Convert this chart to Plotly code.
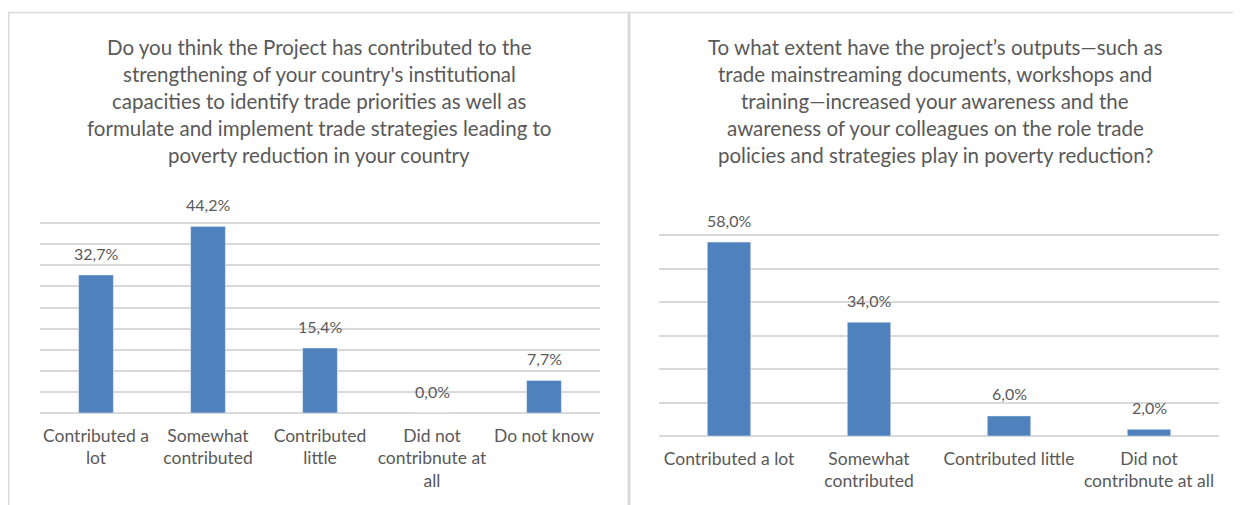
import plotly.graph_objects as go

# left chart data
left_categories = ["Contributed a<br>lot", "Somewhat<br>contributed", "Contributed<br>little",
                   "Did not<br>contribnute at<br>all", "Do not know"]
left_values = [32.7, 44.2, 15.4, 0.0, 7.7]
left_title = [
    "Do you think the Project has contributed to the",
    "strengthening of your country's institutional",
    "capacities to identify trade priorities as well as",
    "formulate and implement trade strategies leading to",
    "poverty reduction in your country",
]

# right chart data
right_categories = ["Contributed a lot", "Somewhat<br>contributed", "Contributed little",
                    "Did not<br>contribnute at all"]
right_values = [58.0, 34.0, 6.0, 2.0]
right_title = [
    "To what extent have the project\u2019s outputs\u2014such as",
    "trade mainstreaming documents, workshops and",
    "training\u2014increased your awareness and the",
    "awareness of your colleagues on the role trade",
    "policies and strategies play in poverty reduction?",
]

# the page body keeps an 8px margin, so the figure is drawn 8px smaller
OFF = 8
W, H = 1241 - OFF, 505 - OFF
BAR = "#4F81BD"
GRID = "#D9D9D9"
TXT = "#595959"
FONT = "Lato"


def px(x):
    return (x - OFF) / W


def py(y):
    return 1 - (y - OFF) / H


def fmt(v):
    return f"{v:.1f}".replace(".", ",") + "%"


fig = go.Figure()

fig.add_trace(go.Bar(x=left_categories, y=left_values, marker_color=BAR,
                     width=0.31, xaxis="x", yaxis="y", hoverinfo="skip"))
fig.add_trace(go.Bar(x=right_categories, y=right_values, marker_color=BAR,
                     width=0.31, xaxis="x2", yaxis="y2", hoverinfo="skip"))

annotations = []
for cats, vals, xr, yr in [(left_categories, left_values, "x", "y"),
                           (right_categories, right_values, "x2", "y2")]:
    for c, v in zip(cats, vals):
        annotations.append(dict(x=c, y=v, xref=xr, yref=yr, text=fmt(v),
                                showarrow=False, yanchor="middle", yshift=22,
                                font=dict(family=FONT, size=16, color=TXT)))

for lines, cx in [(left_title, 319), (right_title, 935)]:
    for i, line in enumerate(lines):
        annotations.append(dict(x=px(cx), y=py(47 + 27 * i), xref="paper", yref="paper",
                                text=line, showarrow=False, xanchor="center", yanchor="middle",
                                font=dict(family=FONT, size=20.5, color=TXT)))

shapes = [
    # chart borders
    dict(type="line", xref="paper", yref="paper", x0=px(8), x1=1.01, y0=py(12.5), y1=py(12.5),
         line=dict(color=GRID, width=1.5)),
    dict(type="line", xref="paper", yref="paper", x0=px(8.5), x1=px(8.5), y0=py(12.5), y1=-0.05,
         line=dict(color=GRID, width=2)),
    dict(type="line", xref="paper", yref="paper", x0=px(629), x1=px(629), y0=py(12.5), y1=-0.05,
         line=dict(color=GRID, width=3)),
]

axis_font = dict(family=FONT, size=17.5, color=TXT)
fig.update_layout(
    width=W, height=H,
    margin=dict(l=0, r=0, t=0, b=0),
    paper_bgcolor="white", plot_bgcolor="white",
    showlegend=False,
    annotations=annotations,
    shapes=shapes,
    xaxis=dict(domain=[px(40), px(600)], tickfont=axis_font, showline=False,
               ticks="", ticklabelstandoff=10, fixedrange=True),
    yaxis=dict(domain=[py(413), py(202)], range=[0, 50], dtick=5, showticklabels=False,
               showgrid=True, gridcolor=GRID, gridwidth=2, zeroline=True, zerolinecolor=GRID,
               zerolinewidth=2, fixedrange=True),
    xaxis2=dict(domain=[px(659), px(1219)], tickfont=axis_font, showline=False,
                ticks="", ticklabelstandoff=10, anchor="y2", fixedrange=True),
    yaxis2=dict(domain=[py(436), py(202)], range=[0, 70], dtick=10, showticklabels=False,
                showgrid=True, gridcolor=GRID, gridwidth=2, zeroline=True, zerolinecolor=GRID,
                zerolinewidth=2, anchor="x2", fixedrange=True),
)

fig.write_html("out.html")
